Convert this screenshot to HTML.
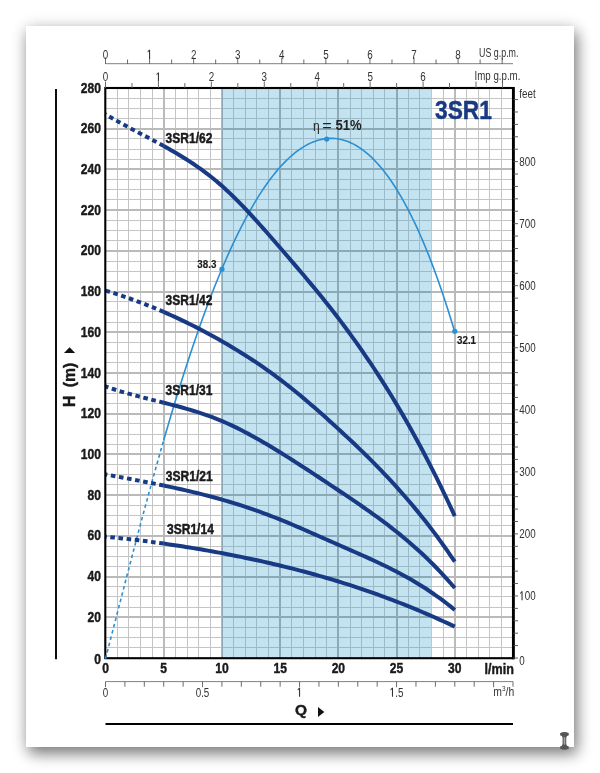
<!DOCTYPE html>
<html><head><meta charset="utf-8"><title>3SR1</title>
<style>
html,body{margin:0;padding:0;background:#fff;}
body{width:600px;height:773px;overflow:hidden;position:relative;font-family:"Liberation Sans",sans-serif;}
#paper{position:absolute;left:26px;top:26px;width:548px;height:721px;background:#fff;box-shadow:0 0 16px rgba(0,0,0,0.12),3px 7px 14px rgba(0,0,0,0.48);}
svg{position:absolute;left:0;top:0;will-change:transform;}
text{font-family:"Liberation Sans",sans-serif;}
</style></head><body>
<div id="paper"></div>
<svg width="600" height="773" viewBox="0 0 600 773">
<defs><clipPath id="cb"><rect x="221.93" y="88.0" width="209.57" height="570.0"/></clipPath></defs>
<g fill="none" shape-rendering="crispEdges">
<path d="M117.14 88.0V658.0M128.79 88.0V658.0M140.43 88.0V658.0M152.07 88.0V658.0M175.36 88.0V658.0M187.00 88.0V658.0M198.64 88.0V658.0M210.29 88.0V658.0M233.57 88.0V658.0M245.21 88.0V658.0M256.86 88.0V658.0M268.50 88.0V658.0M291.79 88.0V658.0M303.43 88.0V658.0M315.07 88.0V658.0M326.71 88.0V658.0M350.00 88.0V658.0M361.64 88.0V658.0M373.29 88.0V658.0M384.93 88.0V658.0M408.21 88.0V658.0M419.86 88.0V658.0M431.50 88.0V658.0M443.14 88.0V658.0M466.43 88.0V658.0M478.07 88.0V658.0M489.71 88.0V658.0M501.36 88.0V658.0M105.5 647.82H513.0M105.5 637.64H513.0M105.5 627.46H513.0M105.5 607.11H513.0M105.5 596.93H513.0M105.5 586.75H513.0M105.5 566.39H513.0M105.5 556.21H513.0M105.5 546.04H513.0M105.5 525.68H513.0M105.5 515.50H513.0M105.5 505.32H513.0M105.5 484.96H513.0M105.5 474.79H513.0M105.5 464.61H513.0M105.5 444.25H513.0M105.5 434.07H513.0M105.5 423.89H513.0M105.5 403.54H513.0M105.5 393.36H513.0M105.5 383.18H513.0M105.5 362.82H513.0M105.5 352.64H513.0M105.5 342.46H513.0M105.5 322.11H513.0M105.5 311.93H513.0M105.5 301.75H513.0M105.5 281.39H513.0M105.5 271.21H513.0M105.5 261.04H513.0M105.5 240.68H513.0M105.5 230.50H513.0M105.5 220.32H513.0M105.5 199.96H513.0M105.5 189.79H513.0M105.5 179.61H513.0M105.5 159.25H513.0M105.5 149.07H513.0M105.5 138.89H513.0M105.5 118.54H513.0M105.5 108.36H513.0M105.5 98.18H513.0" stroke="#c4c4c4" stroke-width="1"/>
<path d="M163.71 88.0V658.0M221.93 88.0V658.0M280.14 88.0V658.0M338.36 88.0V658.0M396.57 88.0V658.0M454.79 88.0V658.0M105.5 617.29H513.0M105.5 576.57H513.0M105.5 535.86H513.0M105.5 495.14H513.0M105.5 454.43H513.0M105.5 413.71H513.0M105.5 373.00H513.0M105.5 332.29H513.0M105.5 291.57H513.0M105.5 250.86H513.0M105.5 210.14H513.0M105.5 169.43H513.0M105.5 128.71H513.0" stroke="#bababa" stroke-width="2"/>
<rect x="221.93" y="88.0" width="209.57" height="570.0" fill="#c3e3f0" stroke="none"/>
<g clip-path="url(#cb)"><path d="M117.14 88.0V658.0M128.79 88.0V658.0M140.43 88.0V658.0M152.07 88.0V658.0M175.36 88.0V658.0M187.00 88.0V658.0M198.64 88.0V658.0M210.29 88.0V658.0M233.57 88.0V658.0M245.21 88.0V658.0M256.86 88.0V658.0M268.50 88.0V658.0M291.79 88.0V658.0M303.43 88.0V658.0M315.07 88.0V658.0M326.71 88.0V658.0M350.00 88.0V658.0M361.64 88.0V658.0M373.29 88.0V658.0M384.93 88.0V658.0M408.21 88.0V658.0M419.86 88.0V658.0M431.50 88.0V658.0M443.14 88.0V658.0M466.43 88.0V658.0M478.07 88.0V658.0M489.71 88.0V658.0M501.36 88.0V658.0M105.5 647.82H513.0M105.5 637.64H513.0M105.5 627.46H513.0M105.5 607.11H513.0M105.5 596.93H513.0M105.5 586.75H513.0M105.5 566.39H513.0M105.5 556.21H513.0M105.5 546.04H513.0M105.5 525.68H513.0M105.5 515.50H513.0M105.5 505.32H513.0M105.5 484.96H513.0M105.5 474.79H513.0M105.5 464.61H513.0M105.5 444.25H513.0M105.5 434.07H513.0M105.5 423.89H513.0M105.5 403.54H513.0M105.5 393.36H513.0M105.5 383.18H513.0M105.5 362.82H513.0M105.5 352.64H513.0M105.5 342.46H513.0M105.5 322.11H513.0M105.5 311.93H513.0M105.5 301.75H513.0M105.5 281.39H513.0M105.5 271.21H513.0M105.5 261.04H513.0M105.5 240.68H513.0M105.5 230.50H513.0M105.5 220.32H513.0M105.5 199.96H513.0M105.5 189.79H513.0M105.5 179.61H513.0M105.5 159.25H513.0M105.5 149.07H513.0M105.5 138.89H513.0M105.5 118.54H513.0M105.5 108.36H513.0M105.5 98.18H513.0" stroke="#9cbac7" stroke-width="1"/><path d="M163.71 88.0V658.0M221.93 88.0V658.0M280.14 88.0V658.0M338.36 88.0V658.0M396.57 88.0V658.0M454.79 88.0V658.0M105.5 617.29H513.0M105.5 576.57H513.0M105.5 535.86H513.0M105.5 495.14H513.0M105.5 454.43H513.0M105.5 413.71H513.0M105.5 373.00H513.0M105.5 332.29H513.0M105.5 291.57H513.0M105.5 250.86H513.0M105.5 210.14H513.0M105.5 169.43H513.0M105.5 128.71H513.0" stroke="#8ca9b7" stroke-width="2"/></g>
</g>
<path d="M105.50 658.73 L108.56 646.91 L111.63 635.05 L114.69 623.17 L117.76 611.29 L120.82 599.42 L123.88 587.57 L126.95 575.76 L130.01 563.99 L133.08 552.28 L136.14 540.63 L139.20 529.06 L142.27 517.57 L145.33 506.17 L148.39 494.88 L151.46 483.69 L154.52 472.63 L157.59 461.68 L160.65 450.87 L163.71 440.19" stroke="#2b8fd3" stroke-width="1.6" fill="none" stroke-dasharray="3.5 3"/>
<path d="M163.71 440.19 L166.16 431.76 L168.61 423.43 L171.05 415.19 L173.50 407.06 L175.94 399.02 L178.39 391.08 L180.84 383.25 L183.28 375.53 L185.73 367.91 L188.17 360.41 L190.62 353.02 L193.07 345.74 L195.51 338.57 L197.96 331.52 L200.40 324.59 L202.85 317.78 L205.30 311.08 L207.74 304.51 L210.19 298.06 L212.63 291.73 L215.08 285.52 L217.53 279.44 L219.97 273.48 L222.42 267.65 L224.86 261.94 L227.31 256.36 L229.76 250.90 L232.20 245.57 L234.65 240.37 L237.09 235.30 L239.54 230.35 L241.99 225.54 L244.43 220.85 L246.88 216.29 L249.32 211.85 L251.77 207.55 L254.22 203.38 L256.66 199.33 L259.11 195.41 L261.55 191.63 L264.00 187.97 L266.45 184.44 L268.89 181.04 L271.34 177.77 L273.78 174.63 L276.23 171.62 L278.68 168.74 L281.12 165.99 L283.57 163.36 L286.01 160.87 L288.46 158.51 L290.91 156.28 L293.35 154.17 L295.80 152.20 L298.24 150.36 L300.69 148.65 L303.14 147.07 L305.58 145.62 L308.03 144.30 L310.47 143.11 L312.92 142.06 L315.36 141.13 L317.81 140.34 L320.26 139.68 L322.70 139.15 L325.15 138.76 L327.59 138.50 L330.04 138.38 L332.49 138.39 L334.93 138.54 L337.38 138.82 L339.82 139.24 L342.27 139.79 L344.72 140.49 L347.16 141.32 L349.61 142.29 L352.05 143.40 L354.50 144.65 L356.95 146.05 L359.39 147.59 L361.84 149.27 L364.28 151.09 L366.73 153.06 L369.18 155.18 L371.62 157.45 L374.07 159.86 L376.51 162.43 L378.96 165.14 L381.41 168.01 L383.85 171.03 L386.30 174.21 L388.74 177.54 L391.19 181.03 L393.64 184.68 L396.08 188.49 L398.53 192.46 L400.97 196.59 L403.42 200.89 L405.87 205.35 L408.31 209.98 L410.76 214.78 L413.20 219.75 L415.65 224.90 L418.10 230.21 L420.54 235.70 L422.99 241.37 L425.43 247.22 L427.88 253.25 L430.33 259.46 L432.77 265.85 L435.22 272.43 L437.66 279.20 L440.11 286.15 L442.56 293.29 L445.00 300.63 L447.45 308.16 L449.89 315.89 L452.34 323.81 L454.79 331.93" stroke="#2b8fd3" stroke-width="1.6" fill="none"/>
<circle cx="221.93" cy="269.18" r="2.6" fill="#2b8fd3"/>
<circle cx="326.71" cy="139.10" r="2.6" fill="#2b8fd3"/>
<circle cx="454.79" cy="331.27" r="2.6" fill="#2b8fd3"/>
<path d="M163.71 146.02 L159.56 143.75 L155.40 141.51 L151.24 139.30 L147.08 137.10 L142.92 134.91 L138.77 132.73 L134.61 130.53 L130.45 128.32 L126.29 126.09 L122.13 123.82 L117.97 121.51 L113.82 119.15 L109.66 116.74 L105.50 114.26" stroke="#183a84" stroke-width="4.0" fill="none" stroke-dasharray="4.6 3.6"/>
<path d="M163.71 146.02 L167.40 148.06 L171.08 150.15 L174.77 152.28 L178.45 154.46 L182.14 156.69 L185.82 158.99 L189.51 161.35 L193.19 163.79 L196.87 166.30 L200.56 168.90 L204.24 171.59 L207.93 174.37 L211.61 177.25 L215.30 180.25 L218.98 183.35 L222.67 186.57 L226.35 189.92 L230.03 193.37 L233.72 196.94 L237.40 200.60 L241.09 204.35 L244.77 208.19 L248.46 212.10 L252.14 216.08 L255.83 220.13 L259.51 224.22 L263.19 228.37 L266.88 232.55 L270.56 236.76 L274.25 241.00 L277.93 245.25 L281.62 249.51 L285.30 253.77 L288.99 258.05 L292.67 262.34 L296.35 266.64 L300.04 270.97 L303.72 275.32 L307.41 279.71 L311.09 284.12 L314.78 288.58 L318.46 293.07 L322.15 297.61 L325.83 302.20 L329.51 306.85 L333.20 311.55 L336.88 316.32 L340.57 321.15 L344.25 326.05 L347.94 331.02 L351.62 336.06 L355.31 341.18 L358.99 346.38 L362.67 351.65 L366.36 357.01 L370.04 362.46 L373.73 367.99 L377.41 373.61 L381.10 379.32 L384.78 385.12 L388.47 391.02 L392.15 397.02 L395.83 403.12 L399.52 409.32 L403.20 415.62 L406.89 422.03 L410.57 428.55 L414.26 435.19 L417.94 441.93 L421.63 448.79 L425.31 455.77 L428.99 462.87 L432.68 470.09 L436.36 477.44 L440.05 484.91 L443.73 492.51 L447.42 500.24 L451.10 508.11 L454.79 516.11" stroke="#183a84" stroke-width="4.0" fill="none"/>
<path d="M163.71 311.93 L159.56 310.14 L155.40 308.39 L151.24 306.68 L147.08 305.02 L142.92 303.39 L138.77 301.80 L134.61 300.26 L130.45 298.75 L126.29 297.29 L122.13 295.86 L117.97 294.47 L113.82 293.13 L109.66 291.82 L105.50 290.55" stroke="#183a84" stroke-width="4.0" fill="none" stroke-dasharray="4.6 3.6"/>
<path d="M163.71 311.93 L167.40 313.55 L171.08 315.20 L174.77 316.88 L178.45 318.59 L182.14 320.34 L185.82 322.12 L189.51 323.93 L193.19 325.77 L196.87 327.64 L200.56 329.55 L204.24 331.49 L207.93 333.46 L211.61 335.46 L215.30 337.50 L218.98 339.57 L222.67 341.67 L226.35 343.80 L230.03 345.97 L233.72 348.17 L237.40 350.41 L241.09 352.68 L244.77 355.00 L248.46 357.36 L252.14 359.76 L255.83 362.20 L259.51 364.69 L263.19 367.22 L266.88 369.80 L270.56 372.43 L274.25 375.12 L277.93 377.85 L281.62 380.64 L285.30 383.47 L288.99 386.36 L292.67 389.30 L296.35 392.29 L300.04 395.32 L303.72 398.39 L307.41 401.51 L311.09 404.66 L314.78 407.85 L318.46 411.07 L322.15 414.33 L325.83 417.61 L329.51 420.93 L333.20 424.27 L336.88 427.63 L340.57 431.02 L344.25 434.43 L347.94 437.86 L351.62 441.33 L355.31 444.82 L358.99 448.35 L362.67 451.92 L366.36 455.53 L370.04 459.18 L373.73 462.87 L377.41 466.62 L381.10 470.42 L384.78 474.27 L388.47 478.18 L392.15 482.15 L395.83 486.19 L399.52 490.29 L403.20 494.46 L406.89 498.70 L410.57 503.01 L414.26 507.41 L417.94 511.88 L421.63 516.44 L425.31 521.09 L428.99 525.82 L432.68 530.65 L436.36 535.57 L440.05 540.59 L443.73 545.71 L447.42 550.94 L451.10 556.27 L454.79 561.71" stroke="#183a84" stroke-width="4.0" fill="none"/>
<path d="M163.71 402.72 L159.56 401.68 L155.40 400.64 L151.24 399.60 L147.08 398.55 L142.92 397.49 L138.77 396.41 L134.61 395.31 L130.45 394.17 L126.29 393.01 L122.13 391.80 L117.97 390.54 L113.82 389.23 L109.66 387.87 L105.50 386.44" stroke="#183a84" stroke-width="4.0" fill="none" stroke-dasharray="4.6 3.6"/>
<path d="M163.71 402.72 L167.40 403.66 L171.08 404.60 L174.77 405.56 L178.45 406.55 L182.14 407.55 L185.82 408.59 L189.51 409.66 L193.19 410.76 L196.87 411.90 L200.56 413.09 L204.24 414.32 L207.93 415.61 L211.61 416.95 L215.30 418.35 L218.98 419.82 L222.67 421.36 L226.35 422.96 L230.03 424.63 L233.72 426.37 L237.40 428.16 L241.09 430.02 L244.77 431.92 L248.46 433.88 L252.14 435.89 L255.83 437.94 L259.51 440.04 L263.19 442.17 L266.88 444.34 L270.56 446.54 L274.25 448.77 L277.93 451.03 L281.62 453.31 L285.30 455.61 L288.99 457.92 L292.67 460.26 L296.35 462.61 L300.04 464.98 L303.72 467.37 L307.41 469.76 L311.09 472.17 L314.78 474.59 L318.46 477.02 L322.15 479.46 L325.83 481.90 L329.51 484.36 L333.20 486.81 L336.88 489.27 L340.57 491.74 L344.25 494.20 L347.94 496.68 L351.62 499.16 L355.31 501.67 L358.99 504.19 L362.67 506.73 L366.36 509.30 L370.04 511.89 L373.73 514.52 L377.41 517.19 L381.10 519.90 L384.78 522.65 L388.47 525.45 L392.15 528.30 L395.83 531.20 L399.52 534.16 L403.20 537.18 L406.89 540.27 L410.57 543.43 L414.26 546.66 L417.94 549.96 L421.63 553.34 L425.31 556.81 L428.99 560.37 L432.68 564.01 L436.36 567.75 L440.05 571.58 L443.73 575.52 L447.42 579.56 L451.10 583.71 L454.79 587.97" stroke="#183a84" stroke-width="4.0" fill="none"/>
<path d="M163.71 485.58 L159.56 484.72 L155.40 483.88 L151.24 483.06 L147.08 482.24 L142.92 481.43 L138.77 480.64 L134.61 479.84 L130.45 479.06 L126.29 478.27 L122.13 477.50 L117.97 476.72 L113.82 475.94 L109.66 475.16 L105.50 474.38" stroke="#183a84" stroke-width="4.0" fill="none" stroke-dasharray="4.6 3.6"/>
<path d="M163.71 485.58 L167.40 486.34 L171.08 487.12 L174.77 487.91 L178.45 488.72 L182.14 489.54 L185.82 490.38 L189.51 491.23 L193.19 492.11 L196.87 493.00 L200.56 493.91 L204.24 494.84 L207.93 495.79 L211.61 496.77 L215.30 497.76 L218.98 498.79 L222.67 499.83 L226.35 500.91 L230.03 502.00 L233.72 503.13 L237.40 504.28 L241.09 505.46 L244.77 506.66 L248.46 507.89 L252.14 509.15 L255.83 510.43 L259.51 511.74 L263.19 513.07 L266.88 514.44 L270.56 515.83 L274.25 517.25 L277.93 518.69 L281.62 520.16 L285.30 521.66 L288.99 523.19 L292.67 524.73 L296.35 526.30 L300.04 527.88 L303.72 529.48 L307.41 531.09 L311.09 532.71 L314.78 534.34 L318.46 535.97 L322.15 537.61 L325.83 539.25 L329.51 540.89 L333.20 542.53 L336.88 544.16 L340.57 545.79 L344.25 547.41 L347.94 549.02 L351.62 550.64 L355.31 552.26 L358.99 553.88 L362.67 555.52 L366.36 557.17 L370.04 558.84 L373.73 560.53 L377.41 562.24 L381.10 563.99 L384.78 565.76 L388.47 567.57 L392.15 569.42 L395.83 571.30 L399.52 573.24 L403.20 575.22 L406.89 577.25 L410.57 579.34 L414.26 581.49 L417.94 583.69 L421.63 585.97 L425.31 588.31 L428.99 590.73 L432.68 593.22 L436.36 595.79 L440.05 598.45 L443.73 601.19 L447.42 604.02 L451.10 606.94 L454.79 609.96" stroke="#183a84" stroke-width="4.0" fill="none"/>
<path d="M163.71 543.59 L159.56 543.01 L155.40 542.44 L151.24 541.89 L147.08 541.35 L142.92 540.82 L138.77 540.31 L134.61 539.81 L130.45 539.32 L126.29 538.85 L122.13 538.39 L117.97 537.94 L113.82 537.50 L109.66 537.08 L105.50 536.67" stroke="#183a84" stroke-width="4.0" fill="none" stroke-dasharray="4.6 3.6"/>
<path d="M163.71 543.59 L167.40 544.12 L171.08 544.66 L174.77 545.20 L178.45 545.76 L182.14 546.33 L185.82 546.91 L189.51 547.50 L193.19 548.10 L196.87 548.71 L200.56 549.33 L204.24 549.97 L207.93 550.61 L211.61 551.27 L215.30 551.93 L218.98 552.61 L222.67 553.30 L226.35 554.00 L230.03 554.71 L233.72 555.43 L237.40 556.17 L241.09 556.91 L244.77 557.67 L248.46 558.44 L252.14 559.22 L255.83 560.01 L259.51 560.82 L263.19 561.64 L266.88 562.47 L270.56 563.32 L274.25 564.18 L277.93 565.05 L281.62 565.93 L285.30 566.83 L288.99 567.75 L292.67 568.68 L296.35 569.62 L300.04 570.57 L303.72 571.55 L307.41 572.53 L311.09 573.54 L314.78 574.55 L318.46 575.59 L322.15 576.64 L325.83 577.71 L329.51 578.79 L333.20 579.89 L336.88 581.01 L340.57 582.14 L344.25 583.29 L347.94 584.46 L351.62 585.65 L355.31 586.85 L358.99 588.08 L362.67 589.32 L366.36 590.58 L370.04 591.85 L373.73 593.15 L377.41 594.47 L381.10 595.80 L384.78 597.15 L388.47 598.52 L392.15 599.92 L395.83 601.33 L399.52 602.76 L403.20 604.21 L406.89 605.68 L410.57 607.17 L414.26 608.68 L417.94 610.21 L421.63 611.76 L425.31 613.33 L428.99 614.92 L432.68 616.53 L436.36 618.16 L440.05 619.82 L443.73 621.49 L447.42 623.19 L451.10 624.91 L454.79 626.65" stroke="#183a84" stroke-width="4.0" fill="none"/>
<rect x="105.3" y="88.0" width="407.7" height="570.2" stroke="#000" stroke-width="2.1" fill="none"/>
<path d="M513.5 86.95V659.25" stroke="#000" stroke-width="2.7" fill="none"/>
<path d="M105.50 658.73 L105.97 656.94 L106.43 655.14" stroke="#2b8fd3" stroke-width="1.6" fill="none"/>
<path d="M56 89V659.3" stroke="#000" stroke-width="1.9"/>
<path d="M105.5 724H513.0" stroke="#000" stroke-width="2.1"/>
<text transform="translate(101.00 663.80) scale(0.8 1)" font-size="15.1" font-weight="bold" text-anchor="end" fill="#1a1a1a" stroke="#1a1a1a" stroke-width="0.45" stroke-linejoin="round">0</text>
<text transform="translate(101.00 621.79) scale(0.8 1)" font-size="15.1" font-weight="bold" text-anchor="end" fill="#1a1a1a" stroke="#1a1a1a" stroke-width="0.45" stroke-linejoin="round">20</text>
<text transform="translate(101.00 581.07) scale(0.8 1)" font-size="15.1" font-weight="bold" text-anchor="end" fill="#1a1a1a" stroke="#1a1a1a" stroke-width="0.45" stroke-linejoin="round">40</text>
<text transform="translate(101.00 540.36) scale(0.8 1)" font-size="15.1" font-weight="bold" text-anchor="end" fill="#1a1a1a" stroke="#1a1a1a" stroke-width="0.45" stroke-linejoin="round">60</text>
<text transform="translate(101.00 499.64) scale(0.8 1)" font-size="15.1" font-weight="bold" text-anchor="end" fill="#1a1a1a" stroke="#1a1a1a" stroke-width="0.45" stroke-linejoin="round">80</text>
<text transform="translate(101.00 458.93) scale(0.8 1)" font-size="15.1" font-weight="bold" text-anchor="end" fill="#1a1a1a" stroke="#1a1a1a" stroke-width="0.45" stroke-linejoin="round">100</text>
<text transform="translate(101.00 418.21) scale(0.8 1)" font-size="15.1" font-weight="bold" text-anchor="end" fill="#1a1a1a" stroke="#1a1a1a" stroke-width="0.45" stroke-linejoin="round">120</text>
<text transform="translate(101.00 377.50) scale(0.8 1)" font-size="15.1" font-weight="bold" text-anchor="end" fill="#1a1a1a" stroke="#1a1a1a" stroke-width="0.45" stroke-linejoin="round">140</text>
<text transform="translate(101.00 336.79) scale(0.8 1)" font-size="15.1" font-weight="bold" text-anchor="end" fill="#1a1a1a" stroke="#1a1a1a" stroke-width="0.45" stroke-linejoin="round">160</text>
<text transform="translate(101.00 296.07) scale(0.8 1)" font-size="15.1" font-weight="bold" text-anchor="end" fill="#1a1a1a" stroke="#1a1a1a" stroke-width="0.45" stroke-linejoin="round">180</text>
<text transform="translate(101.00 255.36) scale(0.8 1)" font-size="15.1" font-weight="bold" text-anchor="end" fill="#1a1a1a" stroke="#1a1a1a" stroke-width="0.45" stroke-linejoin="round">200</text>
<text transform="translate(101.00 214.64) scale(0.8 1)" font-size="15.1" font-weight="bold" text-anchor="end" fill="#1a1a1a" stroke="#1a1a1a" stroke-width="0.45" stroke-linejoin="round">220</text>
<text transform="translate(101.00 173.93) scale(0.8 1)" font-size="15.1" font-weight="bold" text-anchor="end" fill="#1a1a1a" stroke="#1a1a1a" stroke-width="0.45" stroke-linejoin="round">240</text>
<text transform="translate(101.00 133.21) scale(0.8 1)" font-size="15.1" font-weight="bold" text-anchor="end" fill="#1a1a1a" stroke="#1a1a1a" stroke-width="0.45" stroke-linejoin="round">260</text>
<text transform="translate(101.00 92.50) scale(0.8 1)" font-size="15.1" font-weight="bold" text-anchor="end" fill="#1a1a1a" stroke="#1a1a1a" stroke-width="0.45" stroke-linejoin="round">280</text>
<text transform="translate(105.50 673.40) scale(0.8 1)" font-size="15.1" font-weight="bold" text-anchor="middle" fill="#1a1a1a" stroke="#1a1a1a" stroke-width="0.45" stroke-linejoin="round">0</text>
<text transform="translate(163.71 673.40) scale(0.8 1)" font-size="15.1" font-weight="bold" text-anchor="middle" fill="#1a1a1a" stroke="#1a1a1a" stroke-width="0.45" stroke-linejoin="round">5</text>
<text transform="translate(221.93 673.40) scale(0.8 1)" font-size="15.1" font-weight="bold" text-anchor="middle" fill="#1a1a1a" stroke="#1a1a1a" stroke-width="0.45" stroke-linejoin="round">10</text>
<text transform="translate(280.14 673.40) scale(0.8 1)" font-size="15.1" font-weight="bold" text-anchor="middle" fill="#1a1a1a" stroke="#1a1a1a" stroke-width="0.45" stroke-linejoin="round">15</text>
<text transform="translate(338.36 673.40) scale(0.8 1)" font-size="15.1" font-weight="bold" text-anchor="middle" fill="#1a1a1a" stroke="#1a1a1a" stroke-width="0.45" stroke-linejoin="round">20</text>
<text transform="translate(396.57 673.40) scale(0.8 1)" font-size="15.1" font-weight="bold" text-anchor="middle" fill="#1a1a1a" stroke="#1a1a1a" stroke-width="0.45" stroke-linejoin="round">25</text>
<text transform="translate(454.79 673.40) scale(0.8 1)" font-size="15.1" font-weight="bold" text-anchor="middle" fill="#1a1a1a" stroke="#1a1a1a" stroke-width="0.45" stroke-linejoin="round">30</text>
<text transform="translate(484.60 673.50) scale(0.885 1)" font-size="14.2" font-weight="bold" text-anchor="start" fill="#1a1a1a" stroke="#1a1a1a" stroke-width="0.45" stroke-linejoin="round">l/min</text>
<path d="M105.5 681.6H513.0" stroke="#808080" stroke-width="1" fill="none"/>
<path d="M105.50 681.7V687.2M124.90 681.7V686.7M144.31 681.7V686.7M163.71 681.7V686.7M183.12 681.7V686.7M202.52 681.7V687.2M221.93 681.7V686.7M241.33 681.7V686.7M260.74 681.7V686.7M280.14 681.7V686.7M299.55 681.7V687.2M318.95 681.7V686.7M338.36 681.7V686.7M357.76 681.7V686.7M377.17 681.7V686.7M396.57 681.7V687.2M415.98 681.7V686.7M435.38 681.7V686.7M454.79 681.7V686.7M474.19 681.7V686.7M493.60 681.7V687.2M513.00 681.7V686.7" stroke="#5a5a5a" stroke-width="0.9" fill="none"/>
<text transform="translate(102.77 696.80) scale(0.78 1)" font-size="12.6" fill="#333">0</text>
<text transform="translate(195.69 696.80) scale(0.78 1)" font-size="12.6" fill="#333">0.5</text>
<path d="M300.09 696.80V687.78H299.08L297.47 689.58L297.91 690.39L299.02 689.04V696.80Z" fill="#333"/>
<path d="M393.02 696.80V687.78H392.00L390.40 689.58L390.83 690.39L391.95 689.04V696.80Z" fill="#333"/>
<text transform="translate(395.21 696.80) scale(0.78 1)" font-size="12.6" fill="#333">.5</text>
<text transform="translate(493.3 695.7) scale(0.8 1)" font-size="13" fill="#333">m<tspan font-size="8" dy="-4.5">3</tspan><tspan dy="4.5">/h</tspan></text>
<text transform="translate(295.00 715.30) scale(1.03 1)" font-size="15" font-weight="bold" text-anchor="start" fill="#1a1a1a" stroke="#1a1a1a" stroke-width="0.45" stroke-linejoin="round">Q</text>
<path d="M318 707L324.3 712L318 717Z" fill="#111"/>
<text transform="translate(75.1 406.9) rotate(-90) scale(0.92 1)" font-size="17" font-weight="bold" fill="#1a1a1a" stroke="#1a1a1a" stroke-width="0.4">H</text>
<text transform="translate(75.1 387.3) rotate(-90) scale(0.93 1)" font-size="17" font-weight="bold" fill="#1a1a1a" stroke="#1a1a1a" stroke-width="0.4">(m)</text>
<path d="M64 353L69.6 347.2L75.2 353Z" fill="#111"/>
<path d="M105.5 63.7H513.0" stroke="#808080" stroke-width="1" fill="none"/>
<path d="M105.50 64V57.5M127.54 64V59.5M149.57 64V57.5M171.61 64V59.5M193.65 64V57.5M215.68 64V59.5M237.72 64V57.5M259.76 64V59.5M281.79 64V57.5M303.83 64V59.5M325.87 64V57.5M347.90 64V59.5M369.94 64V57.5M391.97 64V59.5M414.01 64V57.5M436.05 64V59.5M458.08 64V57.5M480.12 64V59.5M502.16 64V57.5" stroke="#5a5a5a" stroke-width="0.9" fill="none"/>
<text transform="translate(102.77 58.80) scale(0.78 1)" font-size="12.6" fill="#333">0</text>
<path d="M150.12 58.80V49.78H149.10L147.50 51.58L147.93 52.39L149.05 51.04V58.80Z" fill="#333"/>
<text transform="translate(190.91 58.80) scale(0.78 1)" font-size="12.6" fill="#333">2</text>
<text transform="translate(234.99 58.80) scale(0.78 1)" font-size="12.6" fill="#333">3</text>
<text transform="translate(279.06 58.80) scale(0.78 1)" font-size="12.6" fill="#333">4</text>
<text transform="translate(323.13 58.80) scale(0.78 1)" font-size="12.6" fill="#333">5</text>
<text transform="translate(367.21 58.80) scale(0.78 1)" font-size="12.6" fill="#333">6</text>
<text transform="translate(411.28 58.80) scale(0.78 1)" font-size="12.6" fill="#333">7</text>
<text transform="translate(455.35 58.80) scale(0.78 1)" font-size="12.6" fill="#333">8</text>
<text transform="translate(479.00 57.00) scale(0.705 1)" font-size="12.6" font-weight="normal" text-anchor="start" fill="#333">US g.p.m.</text>
<path d="M105.50 88V81.5M131.96 88V83M158.43 88V81.5M184.89 88V83M211.36 88V81.5M237.82 88V83M264.29 88V81.5M290.75 88V83M317.22 88V81.5M343.68 88V83M370.15 88V81.5M396.61 88V83M423.08 88V81.5M449.54 88V83M476.01 88V81.5M502.47 88V83" stroke="#5a5a5a" stroke-width="0.9" fill="none"/>
<text transform="translate(102.77 81.40) scale(0.78 1)" font-size="12.6" fill="#333">0</text>
<path d="M158.98 81.40V72.38H157.96L156.35 74.18L156.79 74.99L157.90 73.64V81.40Z" fill="#333"/>
<text transform="translate(208.63 81.40) scale(0.78 1)" font-size="12.6" fill="#333">2</text>
<text transform="translate(261.56 81.40) scale(0.78 1)" font-size="12.6" fill="#333">3</text>
<text transform="translate(314.49 81.40) scale(0.78 1)" font-size="12.6" fill="#333">4</text>
<text transform="translate(367.42 81.40) scale(0.78 1)" font-size="12.6" fill="#333">5</text>
<text transform="translate(420.34 81.40) scale(0.78 1)" font-size="12.6" fill="#333">6</text>
<text transform="translate(474.60 79.80) scale(0.77 1)" font-size="12.6" font-weight="normal" text-anchor="start" fill="#333">Imp g.p.m.</text>
<path d="M513.0 658.00H518.0M513.0 645.59H518.0M513.0 633.18H518.0M513.0 620.77H518.0M513.0 608.36H518.0M513.0 595.95H518.0M513.0 583.54H518.0M513.0 571.13H518.0M513.0 558.72H518.0M513.0 546.31H518.0M513.0 533.90H518.0M513.0 521.49H518.0M513.0 509.08H518.0M513.0 496.67H518.0M513.0 484.26H518.0M513.0 471.85H518.0M513.0 459.44H518.0M513.0 447.03H518.0M513.0 434.63H518.0M513.0 422.22H518.0M513.0 409.81H518.0M513.0 397.40H518.0M513.0 384.99H518.0M513.0 372.58H518.0M513.0 360.17H518.0M513.0 347.76H518.0M513.0 335.35H518.0M513.0 322.94H518.0M513.0 310.53H518.0M513.0 298.12H518.0M513.0 285.71H518.0M513.0 273.30H518.0M513.0 260.89H518.0M513.0 248.48H518.0M513.0 236.07H518.0M513.0 223.66H518.0M513.0 211.25H518.0M513.0 198.84H518.0M513.0 186.43H518.0M513.0 174.02H518.0M513.0 161.61H518.0M513.0 149.20H518.0M513.0 136.79H518.0M513.0 124.38H518.0M513.0 111.97H518.0M513.0 99.56H518.0" stroke="#444" stroke-width="0.85" fill="none"/>
<path d="M522.58 600.35V591.33H521.56L519.96 593.13L520.39 593.95L521.51 592.59V600.35Z" fill="#333"/>
<text transform="translate(524.76 600.35) scale(0.78 1)" font-size="12.6" fill="#333">00</text>
<text transform="translate(519.30 538.30) scale(0.78 1)" font-size="12.6" fill="#333">200</text>
<text transform="translate(519.30 476.25) scale(0.78 1)" font-size="12.6" fill="#333">300</text>
<text transform="translate(519.30 414.21) scale(0.78 1)" font-size="12.6" fill="#333">400</text>
<text transform="translate(519.30 352.16) scale(0.78 1)" font-size="12.6" fill="#333">500</text>
<text transform="translate(519.30 290.11) scale(0.78 1)" font-size="12.6" fill="#333">600</text>
<text transform="translate(519.30 228.06) scale(0.78 1)" font-size="12.6" fill="#333">700</text>
<text transform="translate(519.30 166.01) scale(0.78 1)" font-size="12.6" fill="#333">800</text>
<text transform="translate(519.30 665.30) scale(0.78 1)" font-size="12.6" font-weight="normal" text-anchor="start" fill="#333">0</text>
<text transform="translate(519.30 97.50) scale(0.78 1)" font-size="12.6" font-weight="normal" text-anchor="start" fill="#333">feet</text>
<text transform="translate(435.00 119.40) scale(0.9 1)" font-size="25.3" font-weight="bold" text-anchor="start" fill="#183a84" stroke="#183a84" stroke-width="0.45" stroke-linejoin="round">3SR1</text>
<text transform="translate(165.60 143.30) scale(0.825 1)" font-size="14.6" font-weight="bold" text-anchor="start" fill="#1a1a1a" stroke="#1a1a1a" stroke-width="0.45" stroke-linejoin="round">3SR1/62</text>
<text transform="translate(165.60 305.00) scale(0.825 1)" font-size="14.6" font-weight="bold" text-anchor="start" fill="#1a1a1a" stroke="#1a1a1a" stroke-width="0.45" stroke-linejoin="round">3SR1/42</text>
<text transform="translate(165.60 395.30) scale(0.825 1)" font-size="14.6" font-weight="bold" text-anchor="start" fill="#1a1a1a" stroke="#1a1a1a" stroke-width="0.45" stroke-linejoin="round">3SR1/31</text>
<text transform="translate(165.80 480.70) scale(0.825 1)" font-size="14.6" font-weight="bold" text-anchor="start" fill="#1a1a1a" stroke="#1a1a1a" stroke-width="0.45" stroke-linejoin="round">3SR1/21</text>
<text transform="translate(167.00 534.20) scale(0.825 1)" font-size="14.6" font-weight="bold" text-anchor="start" fill="#1a1a1a" stroke="#1a1a1a" stroke-width="0.45" stroke-linejoin="round">3SR1/14</text>
<text transform="translate(197.30 268.40) scale(0.83 1)" font-size="11.8" font-weight="bold" text-anchor="start" fill="#1a1a1a" stroke="#1a1a1a" stroke-width="0.15" stroke-linejoin="round">38.3</text>
<text transform="translate(457.00 343.80) scale(0.83 1)" font-size="11.8" font-weight="bold" text-anchor="start" fill="#1a1a1a" stroke="#1a1a1a" stroke-width="0.15" stroke-linejoin="round">32.1</text>
<text transform="translate(313 130.5) scale(0.86 1)" font-size="14" fill="#222">η</text>
<text transform="translate(322.2 130.8) scale(1.15 1)" font-size="14" fill="#222">=</text>
<text transform="translate(335.4 130.4) scale(0.885 1)" font-size="14.8" font-weight="bold" fill="#222">51%</text>
<g><rect x="562.5" y="734" width="3.8" height="13.5" fill="#6a6a6a"/><rect x="563.9" y="736" width="1" height="9.5" fill="#b0b0b0"/><path d="M560 733.2Q564.4 730.6 568.9 733.2L568.6 735.4Q566.5 735.6 566.3 737.2H562.5Q562.3 735.6 560.3 735.4Z" fill="#555"/><path d="M560 748.4Q564.4 751 568.9 748.4L568.6 746.2Q566.5 746 566.3 744.4H562.5Q562.3 746 560.3 746.2Z" fill="#555"/></g>
</svg></body></html>
